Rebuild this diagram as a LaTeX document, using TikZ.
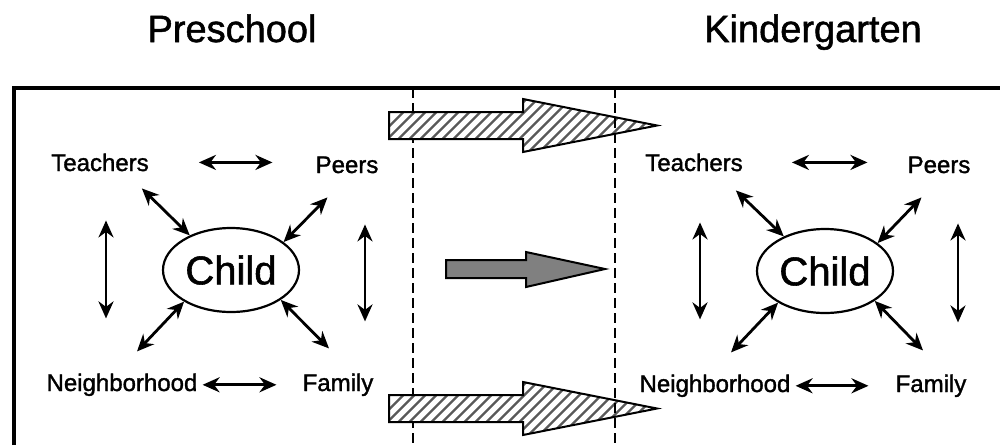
\documentclass[tikz,border=0pt]{standalone}
\usepackage{fontspec}
\setmainfont{Liberation Sans}
\newfontfamily\thicksans{Liberation Sans}[FakeBold=1.4]
\usetikzlibrary{arrows.meta,shapes.geometric}

\tikzset{
	lbl/.style={font=\thicksans\fontsize{24}{28}\selectfont, inner sep=0pt, anchor=base},
	ttl/.style={font=\thicksans\fontsize{38}{44}\selectfont, inner sep=0pt, anchor=base},
	kid/.style={ellipse, draw, line width=2.2pt, minimum width=136pt, minimum height=84pt, inner sep=0pt, font=\thicksans\fontsize{40}{46}\selectfont},
	dbl/.style={{Stealth[length=17pt,width=15pt]}-{Stealth[length=17pt,width=15pt]}, line width=2.8pt},
	sep/.style={line width=2pt, dash pattern=on 10pt off 5pt},
	hatchline/.style={line width=2.4pt, color=black!65},
	outline/.style={line width=2pt, line join=miter},
	greyarrow/.style={draw, line width=2pt, fill=black!50}
}
% hatched arrow, #1 = y of its middle
\newcommand\hatcharrow[1]{%
	\def\arrowpath{(389,#1-13.5) -- (523,#1-13.5) -- (523,#1-26.5) -- (657,#1) -- (523,#1+26.5) -- (523,#1+13.5) -- (389,#1+13.5) -- cycle}%
	\begin{scope}
		\fill[white] \arrowpath;
		\clip \arrowpath;
		\foreach \s in {0,11,...,330} \draw[hatchline] (350+\s,#1+40) -- ++(80,-80);
	\end{scope}
	\draw[outline] \arrowpath;
}

\begin{document}
\begin{tikzpicture}[x=1pt, y=-1pt]
			%%%%% START %%%%%
			\useasboundingbox (0,0) rectangle (1000,445);
			
			\node[ttl] (pre) at (232, 42) {Preschool};
			\node[ttl] (kin) at (813, 42) {Kindergarten};
			
			\draw[line width=3.5pt] (14, 445) -- (14, 88) -- (1000, 88);
			\draw[sep] (413, 88) -- (413, 445);
			
			%% preschool side
			\node[kid] (cL) at (231, 270) {Child};
			\node[lbl] (tL) at (100, 171) {Teachers};
			\node[lbl] (pL) at (347, 173) {Peers};
			\node[lbl] (nL) at (122, 391) {Neighborhood};
			\node[lbl] (fL) at (338, 391) {Family};
			
			\draw[dbl, shorten <=50pt, shorten >=43pt] (tL.east) -- (tL.east -| pL.west);
			\draw[dbl, shorten <=5pt, shorten >=26pt] (nL.east) -- (nL.east -| fL.west);
			\draw[dbl, shorten <=49pt, shorten >=55pt] ([xshift=6pt]tL.south) -- ([xshift=6pt]tL.south |- nL.north);
			\draw[dbl, shorten <=51pt, shorten >=52pt] ([xshift=18pt]pL.south) -- ([xshift=18pt]pL.south |- fL.north);
			
			\draw[dbl] (cL.140) -- ([shift={(-7,17)}]tL.south east);
			\draw[dbl] (cL.28) -- ([shift={(12,24)}]pL.south west);
			\draw[dbl] (cL.214) -- ([shift={(15,-22)}]nL.north);
			\draw[dbl] (cL.-31) -- ([shift={(-9,-25)}]fL.north);
			
			%% arrows between the two
			\hatcharrow{125.5}
			\draw[greyarrow] (446, 260) -- (526, 260) -- (526, 252) -- (605, 269) -- (526, 287) -- (526, 278) -- (446, 278) -- cycle;
			\hatcharrow{408.5}
			
			\draw[sep] (615, 88) -- (615, 445);
			
			%% kindergarten side
			\node[kid] (cR) at (825, 271) {Child};
			\node[lbl] (tR) at (694, 171) {Teachers};
			\node[lbl] (pR) at (939, 173) {Peers};
			\node[lbl] (nR) at (715, 392) {Neighborhood};
			\node[lbl] (fR) at (931, 392) {Family};
			
			\draw[dbl, shorten <=49pt, shorten >=40pt] (tR.east) -- (tR.east -| pR.west);
			\draw[dbl, shorten <=5pt, shorten >=27pt] (nR.east) -- (nR.east -| fR.west);
			\draw[dbl, shorten <=51pt, shorten >=55pt] ([xshift=6pt]tR.south) -- ([xshift=6pt]tR.south |- nR.north);
			\draw[dbl, shorten <=50pt, shorten >=52pt] ([xshift=19pt]pR.south) -- ([xshift=19pt]pR.south |- fR.north);
			
			\draw[dbl] (cR.140) -- ([shift={(-7,19)}]tR.south east);
			\draw[dbl] (cR.28) -- ([shift={(14,24)}]pR.south west);
			\draw[dbl] (cR.214) -- ([shift={(16,-22)}]nR.north);
			\draw[dbl] (cR.-31) -- ([shift={(-8,-24)}]fR.north);
			
			%%%%% END %%%%%
\end{tikzpicture}
\end{document}
